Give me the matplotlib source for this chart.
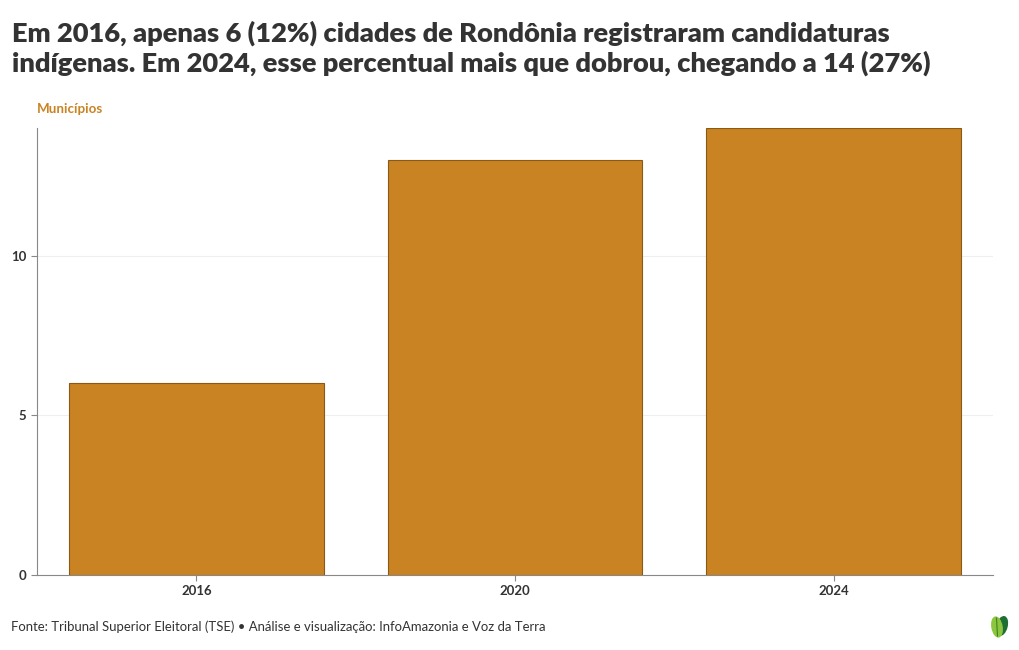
import matplotlib
matplotlib.use("Agg")
import matplotlib.pyplot as plt
from matplotlib.patches import Ellipse

plt.rcParams['font.family'] = ['Lato', 'DejaVu Sans']

years = ["2016", "2020", "2024"]
municipios = [6, 13, 14]
yticks = [0, 5, 10]

title = ("Em 2016, apenas 6 (12%) cidades de Rondônia registraram candidaturas\n"
         "indígenas. Em 2024, esse percentual mais que dobrou, chegando a 14 (27%)")
ylabel = "Municípios"
footer = "Fonte: Tribunal Superior Eleitoral (TSE) • Análise e visualização: InfoAmazonia e Voz da Terra"

bar_color = "#C98322"
edge_color = "#8A5A14"
text_color = "#333333"

fig = plt.figure(figsize=(10.2, 6.5), dpi=100)
ax = fig.add_axes([37/1020, 1-575/650, (993-37)/1020, (575-128)/650])

x = list(range(len(years)))
ax.bar(x, municipios, width=0.8, color=bar_color, edgecolor=edge_color, linewidth=0.8, zorder=3)

ax.set_xlim(-0.5, len(years)-0.5)
ax.set_ylim(0, 14)
ax.set_xticks(x)
ax.set_xticklabels(years)
ax.set_yticks(yticks)
ax.grid(axis='y', color="#eeeeee", linewidth=0.8, zorder=0)
for s in ['top', 'right']:
    ax.spines[s].set_visible(False)
for s in ['left', 'bottom']:
    ax.spines[s].set_color("#888888")
    ax.spines[s].set_linewidth(0.8)
ax.tick_params(axis='both', colors="#888888", length=4, width=0.8, labelsize=9.5, labelcolor=text_color)
for lab in ax.get_xticklabels() + ax.get_yticklabels():
    lab.set_fontweight('bold')

fig.text(12/1020, 1-20/650, title, ha='left', va='top', fontsize=19.65, fontweight='heavy',
         color=text_color, linespacing=1.25)
fig.text(37/1020, 1-109/650, ylabel, ha='left', va='center', fontsize=9.6, fontweight='bold',
         color=bar_color)
fig.text(11/1020, 1-627/650, footer, ha='left', va='center', fontsize=9.45, color=text_color)

# small leaf logo
lax = fig.add_axes([983/1020, 1-640/650, 32/1020, 28/650])
lax.set_xlim(0, 32); lax.set_ylim(0, 28)
lax.axis('off')
lax.add_patch(Ellipse((19, 14), 10, 19, angle=-15, color="#1F6E34"))
lax.add_patch(Ellipse((14, 13), 10, 20, angle=10, color="#8CC63F"))
lax.plot([14.5, 13.5], [4, 22], color="#3F7F25", linewidth=0.8)

fig.savefig("out.png", dpi=100)
